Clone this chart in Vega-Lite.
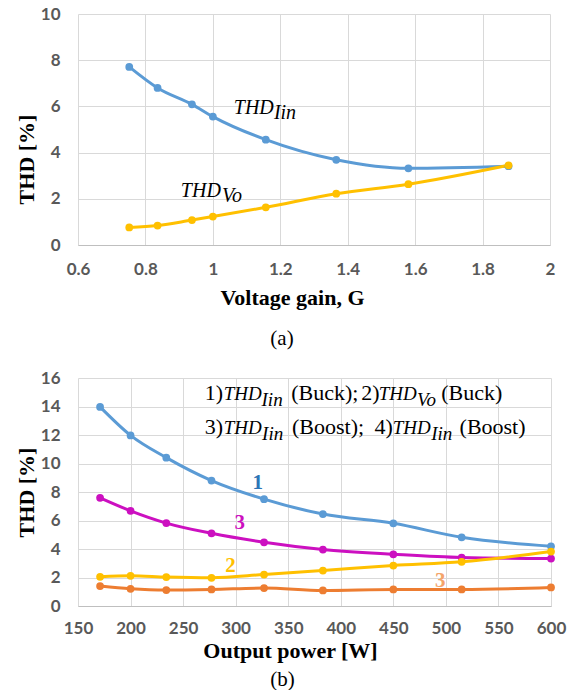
{
  "$schema": "https://vega.github.io/schema/vega-lite/v6.json",
  "padding": {"left": 15, "top": 5, "right": 5, "bottom": 0},
  "autosize": {"type": "pad"},
  "background": "white",
  "config": {
    "view": {"stroke": null},
    "font": "Liberation Serif",
    "axis": {
      "labelFont": "Lato", "labelFontWeight": "bold", "labelFontSize": 17, "labelColor": "#595959",
      "ticks": false, "gridColor": "#d9d9d9", "domainColor": "#bfbfbf", "labelOverlap": false, "labelFlush": false,
      "titleFont": "Liberation Serif", "titleFontWeight": "bold", "titleFontSize": 22, "titleColor": "#000000"
    },
    "axisY": {"domain": false, "labelPadding": 18},
    "axisX": {"labelPadding": 16},
    "text": {"font": "Liberation Serif", "fontSize": 21}
  },
  "datasets": {
    "top": [
      {"x": 0.752, "y": 7.71, "series": "a_Iin"},
      {"x": 0.836, "y": 6.80, "series": "a_Iin"},
      {"x": 0.938, "y": 6.09, "series": "a_Iin"},
      {"x": 1.0, "y": 5.56, "series": "a_Iin"},
      {"x": 1.157, "y": 4.56, "series": "a_Iin"},
      {"x": 1.366, "y": 3.69, "series": "a_Iin"},
      {"x": 1.58, "y": 3.32, "series": "a_Iin"},
      {"x": 1.877, "y": 3.41, "series": "a_Iin"},
      {"x": 0.752, "y": 0.76, "series": "b_Vo"},
      {"x": 0.836, "y": 0.84, "series": "b_Vo"},
      {"x": 0.938, "y": 1.08, "series": "b_Vo"},
      {"x": 1.0, "y": 1.23, "series": "b_Vo"},
      {"x": 1.157, "y": 1.63, "series": "b_Vo"},
      {"x": 1.366, "y": 2.22, "series": "b_Vo"},
      {"x": 1.58, "y": 2.63, "series": "b_Vo"},
      {"x": 1.877, "y": 3.45, "series": "b_Vo"}
    ],
    "topText": [
      {"x": 1.062, "y": 5.66, "text": "THD"},
      {"x": 1.181, "y": 5.44, "text": "Iin"},
      {"x": 0.905, "y": 2.08, "text": "THD"},
      {"x": 1.027, "y": 1.86, "text": "Vo"}
    ],
    "bottom": [
      {"x": 171, "y": 13.97, "series": "a1"},
      {"x": 200, "y": 11.97, "series": "a1"},
      {"x": 234, "y": 10.41, "series": "a1"},
      {"x": 277, "y": 8.80, "series": "a1"},
      {"x": 327, "y": 7.50, "series": "a1"},
      {"x": 383, "y": 6.45, "series": "a1"},
      {"x": 450, "y": 5.80, "series": "a1"},
      {"x": 515, "y": 4.82, "series": "a1"},
      {"x": 600, "y": 4.19, "series": "a1"},
      {"x": 171, "y": 7.59, "series": "b3"},
      {"x": 200, "y": 6.68, "series": "b3"},
      {"x": 234, "y": 5.82, "series": "b3"},
      {"x": 277, "y": 5.10, "series": "b3"},
      {"x": 327, "y": 4.47, "series": "b3"},
      {"x": 383, "y": 3.96, "series": "b3"},
      {"x": 450, "y": 3.63, "series": "b3"},
      {"x": 515, "y": 3.40, "series": "b3"},
      {"x": 600, "y": 3.33, "series": "b3"},
      {"x": 171, "y": 1.40, "series": "c4"},
      {"x": 200, "y": 1.21, "series": "c4"},
      {"x": 234, "y": 1.12, "series": "c4"},
      {"x": 277, "y": 1.16, "series": "c4"},
      {"x": 327, "y": 1.26, "series": "c4"},
      {"x": 383, "y": 1.09, "series": "c4"},
      {"x": 450, "y": 1.16, "series": "c4"},
      {"x": 515, "y": 1.16, "series": "c4"},
      {"x": 600, "y": 1.30, "series": "c4"},
      {"x": 171, "y": 2.05, "series": "d2"},
      {"x": 200, "y": 2.12, "series": "d2"},
      {"x": 234, "y": 2.03, "series": "d2"},
      {"x": 277, "y": 1.98, "series": "d2"},
      {"x": 327, "y": 2.21, "series": "d2"},
      {"x": 383, "y": 2.49, "series": "d2"},
      {"x": 450, "y": 2.84, "series": "d2"},
      {"x": 515, "y": 3.10, "series": "d2"},
      {"x": 600, "y": 3.82, "series": "d2"}
    ],
    "bottomItalic": [
      {"x": 288.6, "y": 14.44, "text": "THD"},
      {"x": 324.6, "y": 14.07, "text": "Iin"},
      {"x": 436.1, "y": 14.44, "text": "THD"},
      {"x": 472.5, "y": 14.07, "text": "Vo"},
      {"x": 288.6, "y": 12.05, "text": "THD"},
      {"x": 325.1, "y": 11.68, "text": "Iin"},
      {"x": 449.5, "y": 12.05, "text": "THD"},
      {"x": 486.0, "y": 11.68, "text": "Iin"}
    ],
    "bottomRegular": [
      {"x": 270.5, "y": 14.44, "text": "1)"},
      {"x": 352.9, "y": 14.44, "text": "(Buck);"},
      {"x": 419.5, "y": 14.44, "text": "2)"},
      {"x": 495.6, "y": 14.44, "text": "(Buck)"},
      {"x": 270.5, "y": 12.05, "text": "3)"},
      {"x": 353.6, "y": 12.05, "text": "(Boost);"},
      {"x": 432.0, "y": 12.05, "text": "4)"},
      {"x": 513.0, "y": 12.05, "text": "(Boost)"}
    ]
  },
  "bounds": "flush",
  "spacing": 133,
  "resolve": {"scale": {"x": "independent", "y": "independent", "color": "independent"}},
  "vconcat": [
    {
      "width": 472,
      "height": 231,
      "title": {"text": "(a)", "orient": "bottom", "frame": "group", "anchor": "middle", "dx": -32, "offset": 20, "font": "Liberation Serif", "fontSize": 21, "fontWeight": "normal", "color": "#000000"},
      "encoding": {
        "x": {"field": "x", "type": "quantitative", "scale": {"domain": [0.6, 2], "nice": false, "zero": false},
              "axis": {"values": [0.6, 0.8, 1, 1.2, 1.4, 1.6, 1.8, 2], "format": "~g", "title": "Voltage gain, G", "titleX": 214, "titleY": 59, "titleBaseline": "alphabetic"}},
        "y": {"field": "y", "type": "quantitative", "scale": {"domain": [0, 10], "nice": false},
              "axis": {"values": [0, 2, 4, 6, 8, 10], "title": "THD [%]", "titleX": -40, "titleY": 145}}
      },
      "layer": [
        {
          "data": {"name": "top"},
          "mark": {"type": "line", "interpolate": "monotone", "strokeWidth": 3, "point": {"filled": true, "size": 60, "opacity": 1}},
          "encoding": {
            "color": {"field": "series", "type": "nominal", "scale": {"domain": ["a_Iin", "b_Vo"], "range": ["#5b9bd5", "#ffc000"]}, "legend": null}
          }
        },
        {
          "data": {"name": "topText"},
          "mark": {"type": "text", "fontStyle": "italic", "align": "left", "baseline": "alphabetic", "fontSize": 20, "color": "#000000"},
          "encoding": {"text": {"field": "text"}}
        }
      ]
    },
    {
      "width": 473,
      "height": 228,
      "title": {"text": "(b)", "orient": "bottom", "frame": "group", "anchor": "middle", "dx": -32, "offset": 8, "font": "Liberation Serif", "fontSize": 21, "fontWeight": "normal", "color": "#000000"},
      "encoding": {
        "x": {"field": "x", "type": "quantitative", "scale": {"domain": [150, 600], "nice": false, "zero": false},
              "axis": {"values": [150, 200, 250, 300, 350, 400, 450, 500, 550, 600], "labelPadding": 14, "title": "Output power [W]", "titleX": 212, "titleY": 51, "titleBaseline": "alphabetic"}},
        "y": {"field": "y", "type": "quantitative", "scale": {"domain": [0, 16], "nice": false},
              "axis": {"values": [0, 2, 4, 6, 8, 10, 12, 14, 16], "title": "THD [%]", "titleX": -40, "titleY": 114}}
      },
      "layer": [
        {
          "data": {"name": "bottom"},
          "mark": {"type": "line", "interpolate": "monotone", "strokeWidth": 3, "point": {"filled": true, "size": 60, "opacity": 1}},
          "encoding": {
            "color": {"field": "series", "type": "nominal", "scale": {"domain": ["a1", "b3", "c4", "d2"], "range": ["#5b9bd5", "#cc10c0", "#ed7d31", "#ffc000"]}, "legend": null}
          }
        },
        {
          "data": {"name": "bottomItalic"},
          "mark": {"type": "text", "fontStyle": "italic", "align": "left", "baseline": "alphabetic", "fontSize": 19, "color": "#000000"},
          "encoding": {"text": {"field": "text"}}
        },
        {
          "data": {"name": "bottomRegular"},
          "mark": {"type": "text", "align": "left", "baseline": "alphabetic", "fontSize": 22, "color": "#000000"},
          "encoding": {"text": {"field": "text"}}
        },
        {
          "data": {"values": [{"x": 321, "y": 8.19, "text": "1"}]},
          "mark": {"type": "text", "fontWeight": "bold", "align": "center", "baseline": "alphabetic", "fontSize": 21, "color": "#2e75b6"},
          "encoding": {"text": {"field": "text"}}
        },
        {
          "data": {"values": [{"x": 304, "y": 5.38, "text": "3"}]},
          "mark": {"type": "text", "fontWeight": "bold", "align": "center", "baseline": "alphabetic", "fontSize": 21, "color": "#cc10c0"},
          "encoding": {"text": {"field": "text"}}
        },
        {
          "data": {"values": [{"x": 295, "y": 2.41, "text": "2"}]},
          "mark": {"type": "text", "fontWeight": "bold", "align": "center", "baseline": "alphabetic", "fontSize": 21, "color": "#ffc000"},
          "encoding": {"text": {"field": "text"}}
        },
        {
          "data": {"values": [{"x": 494.7, "y": 1.36, "text": "3"}]},
          "mark": {"type": "text", "fontWeight": "bold", "align": "center", "baseline": "alphabetic", "fontSize": 21, "color": "#f4a46a"},
          "encoding": {"text": {"field": "text"}}
        }
      ]
    }
  ]
}
